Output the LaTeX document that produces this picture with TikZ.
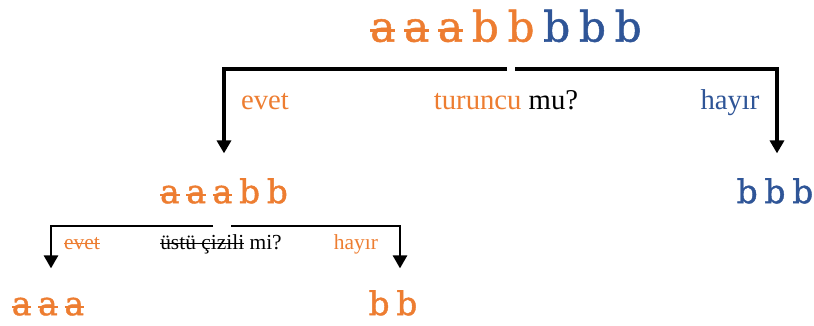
\documentclass[tikz,border=0pt]{standalone}
\usepackage{fontspec}
\setmainfont{Liberation Serif}
\newfontfamily\harffont[WordSpace=0.65,FakeBold=1.2]{DejaVu Serif}
\usetikzlibrary{arrows.meta}

\definecolor{turuncu}{RGB}{237,125,49}
\definecolor{mavi}{RGB}{47,85,151}

% strike-through whose weight follows the font size
\newsavebox{\cizbox}
\newcommand{\ciz}[1]{\sbox{\cizbox}{#1}\rlap{\rule[0.22em]{\wd\cizbox}{0.07em}}\usebox{\cizbox}}

\begin{document}
\begin{tikzpicture}[x=0.03cm, y=-0.03cm, line width=2.6pt,
	arrows={-Triangle[width=12pt,length=11pt]},
	harf/.style={font=\harffont\fontsize{#1}{#1}\selectfont, inner sep=0pt,
		text height=#1pt*0.74, text depth=0pt, text=turuncu},
	soru/.style={font=\fontsize{#1}{#1}\selectfont, inner sep=0pt, anchor=base}]
	\useasboundingbox (0,0) rectangle (814,325);

	\node[harf=36] (kok) at (506,26) {\ciz{a} \ciz{a} \ciz{a} b b {\color{mavi}b b b}};

	\node[soru=24.5, text=turuncu] (evet1) at (265,109) {evet};
	\node[soru=24.5] (soru1) at (506,109) {\textcolor{turuncu}{turuncu} mu?};
	\node[soru=24.5, text=mavi] (hayir1) at (730,109) {hayır};

	\node[harf=28] (sol) at (224,191) {\ciz{a} \ciz{a} \ciz{a} b b};
	\node[harf=28, text=mavi] (sag) at (775,191) {b b b};

	\node[soru=18.3, text=turuncu] (evet2) at (82,249) {\ciz{evet}};
	\node[soru=18.3] (soru2) at (221,249) {\ciz{üstü çizili} mi?};
	\node[soru=18.3, text=turuncu] (hayir2) at (356,249) {hayır};

	\node[harf=28] (sol2) at (48,303) {\ciz{a} \ciz{a} \ciz{a}};
	\node[harf=28] (sag2) at (393,303) {b b};

	% split brackets
	\coordinate (k1) at (507,69);
	\coordinate (k2) at (515,69);
	\coordinate (k3) at (213,226);
	\coordinate (k4) at (231,226);

	\draw[shorten >=0.72cm] (k1) -| (sol);
	\draw[shorten >=0.72cm] (k2) -| ([xshift=0.06cm]sag.north);
	\draw[line width=2pt, shorten >=0.63cm] (k3) -| ([xshift=0.09cm]sol2.north);
	\draw[line width=2pt, shorten >=0.63cm] (k4) -| ([xshift=0.21cm]sag2.north);
\end{tikzpicture}
\end{document}
